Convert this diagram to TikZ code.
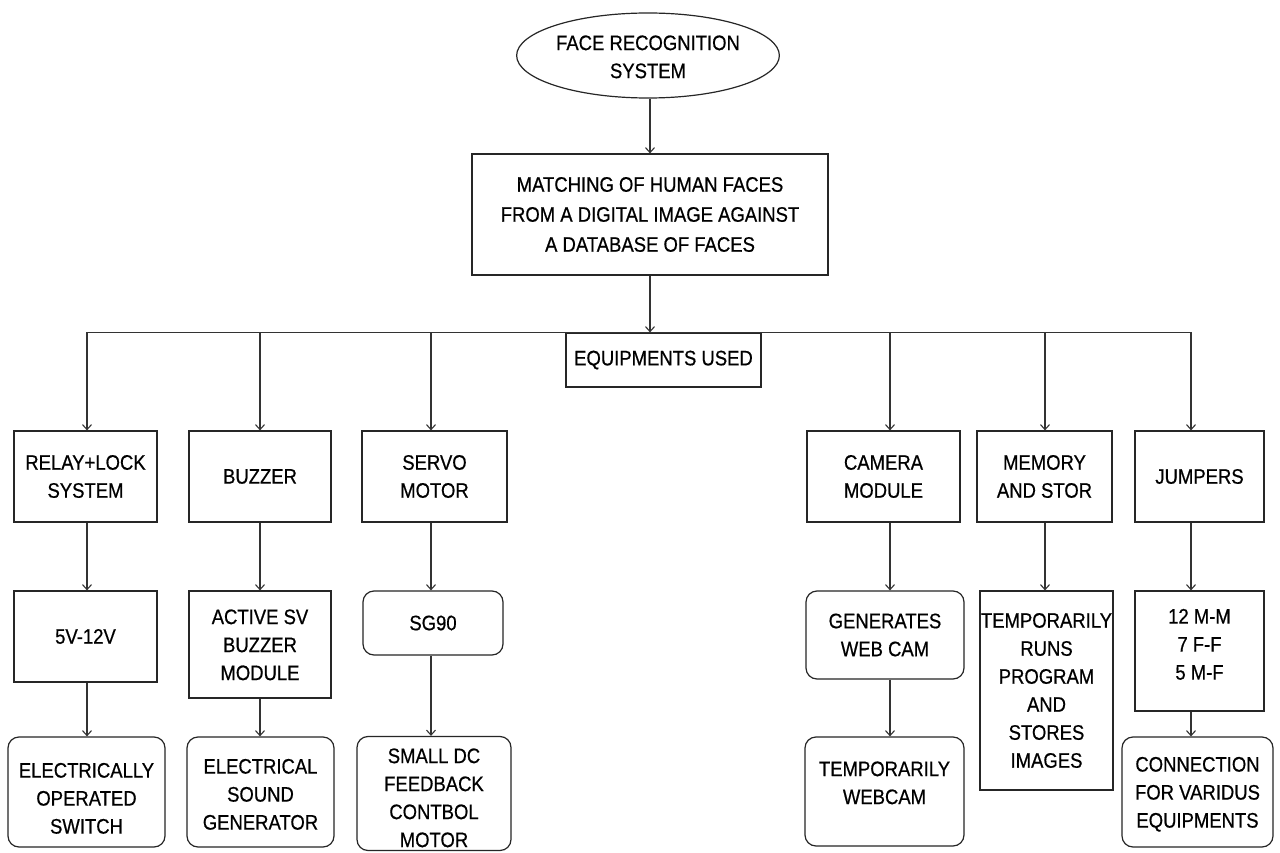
\documentclass[tikz,border=0pt]{standalone}
\usepackage{fontspec}
\setmainfont{Liberation Sans}[FakeStretch=0.88,FakeBold=0.6]
\usetikzlibrary{shapes.geometric,arrows.meta}
\newcommand\txtshift[2]{\raisebox{#1}[\height][\depth]{\begin{tabular}{@{}c@{}}#2\end{tabular}}}
\tikzset{
  box/.style={draw=black!85, line width=1.2pt, rectangle, align=center, inner sep=1pt, text=black},
  rbox/.style={box, rounded corners=11pt},
  ellbox/.style={draw=black!85, line width=1.2pt, ellipse, align=center, inner sep=1pt},
  arr/.style={draw=black!80, line width=1.1pt, -{Straight Barb[length=5pt,width=9pt]}},
  bus/.style={draw=black!80, line width=1.1pt}
}
\begin{document}
\begin{tikzpicture}[x=1pt,y=-1pt,font=\fontsize{21}{28}\selectfont]
\fill[white] (0,0) rectangle (1280,853);
\useasboundingbox (0,0) rectangle (1280,853);
% top
\node[ellbox, minimum width=230pt, minimum height=85pt] (ell) at (648,55.5) {\txtshift{-3pt}{FACE RECOGNITION\\SYSTEM}};
\node[box, minimum width=356pt, minimum height=121pt, font=\fontsize{21}{30}\selectfont] (main) at (650,214.5) {MATCHING OF HUMAN FACES\\FROM A DIGITAL IMAGE AGAINST\\A DATABASE OF FACES};
\node[box, minimum width=195pt, minimum height=54pt] (equip) at (663.5,360) {EQUIPMENTS USED};
% column x positions
\coordinate (c1) at (87,0);
\coordinate (c2) at (260,0);
\coordinate (c3) at (431,0);
\coordinate (c4) at (890,0);
\coordinate (c5) at (1045,0);
\coordinate (c6) at (1191,0);
% row 1
\node[box, minimum width=143pt, minimum height=91pt] (relay) at (85.5,476.5) {RELAY+LOCK\\SYSTEM};
\node[box, minimum width=142pt, minimum height=91pt] (buzz) at (260,476.5) {BUZZER};
\node[box, minimum width=145pt, minimum height=91pt] (servo) at (434.5,476.5) {SERVO\\MOTOR};
\node[box, minimum width=153pt, minimum height=91pt] (cam) at (883.5,476.5) {CAMERA\\MODULE};
\node[box, minimum width=135pt, minimum height=91pt] (mem) at (1044.5,476.5) {MEMORY\\AND STOR};
\node[box, minimum width=129pt, minimum height=91pt] (jump) at (1199.5,476.5) {JUMPERS};
% row 2
\node[box, minimum width=143pt, minimum height=91pt] (volt) at (85.5,636.5) {5V-12V};
\node[box, minimum width=142pt, minimum height=107pt] (active) at (260,644.5) {\txtshift{-2pt}{ACTIVE SV\\BUZZER\\MODULE}};
\node[rbox, minimum width=140pt, minimum height=64pt] (sg) at (433,623) {SG90};
\node[rbox, minimum width=158pt, minimum height=88pt] (gen) at (885,635) {GENERATES\\WEB CAM};
\node[box, minimum width=133pt, minimum height=199pt] (temp) at (1046.5,690.5) {TEMPORARILY\\RUNS\\PROGRAM\\AND\\STORES\\IMAGES};
\node[box, minimum width=129pt, minimum height=120pt] (jm) at (1199.5,651) {\txtshift{5pt}{12 M-M\\7 F-F\\5 M-F}};
% row 3
\node[rbox, minimum width=157pt, minimum height=110pt] (elec) at (86.5,792) {\txtshift{-8pt}{ELECTRICALLY\\OPERATED\\SWITCH}};
\node[rbox, minimum width=147pt, minimum height=110pt] (sound) at (260.5,792) {\txtshift{-4pt}{ELECTRICAL\\SOUND\\GENERATOR}};
\node[rbox, minimum width=154pt, minimum height=113pt] (small) at (434,793.5) {\txtshift{-6pt}{SMALL DC\\FEEDBACK\\CONTBOL\\MOTOR}};
\node[rbox, minimum width=159pt, minimum height=109pt] (web) at (884.5,791.5) {\txtshift{7pt}{TEMPORARILY\\WEBCAM}};
\node[rbox, minimum width=151pt, minimum height=110pt] (conn) at (1197.5,792) {\txtshift{-2pt}{CONNECTION\\FOR VARIDUS\\EQUIPMENTS}};
% connectors top
\draw[arr] (ell.south -| main.north) -- (main.north);
\draw[arr] (main.south) -- (main.south |- equip.north);
\draw[bus] (c1 |- equip.north) -- (c6 |- equip.north);
\draw[arr] (c1 |- equip.north) -- (c1 |- relay.north);
\draw[arr] (c2 |- equip.north) -- (c2 |- buzz.north);
\draw[arr] (c3 |- equip.north) -- (c3 |- servo.north);
\draw[arr] (c4 |- equip.north) -- (c4 |- cam.north);
\draw[arr] (c5 |- equip.north) -- (c5 |- mem.north);
\draw[arr] (c6 |- equip.north) -- (c6 |- jump.north);
% row 1 -> row 2
\draw[arr] (c1 |- relay.south) -- (c1 |- volt.north);
\draw[arr] (c2 |- buzz.south) -- (c2 |- active.north);
\draw[arr] (c3 |- servo.south) -- (c3 |- sg.north);
\draw[arr] (c4 |- cam.south) -- (c4 |- gen.north);
\draw[arr] (c5 |- mem.south) -- (c5 |- temp.north);
\draw[arr] (c6 |- jump.south) -- (c6 |- jm.north);
% row 2 -> row 3
\draw[arr] (c1 |- volt.south) -- (c1 |- elec.north);
\draw[arr] (c2 |- active.south) -- (c2 |- sound.north);
\draw[arr] (c3 |- sg.south) -- (c3 |- small.north);
\draw[arr] (c4 |- gen.south) -- (c4 |- web.north);
\draw[arr] (c6 |- jm.south) -- (c6 |- conn.north);
\end{tikzpicture}
\end{document}
